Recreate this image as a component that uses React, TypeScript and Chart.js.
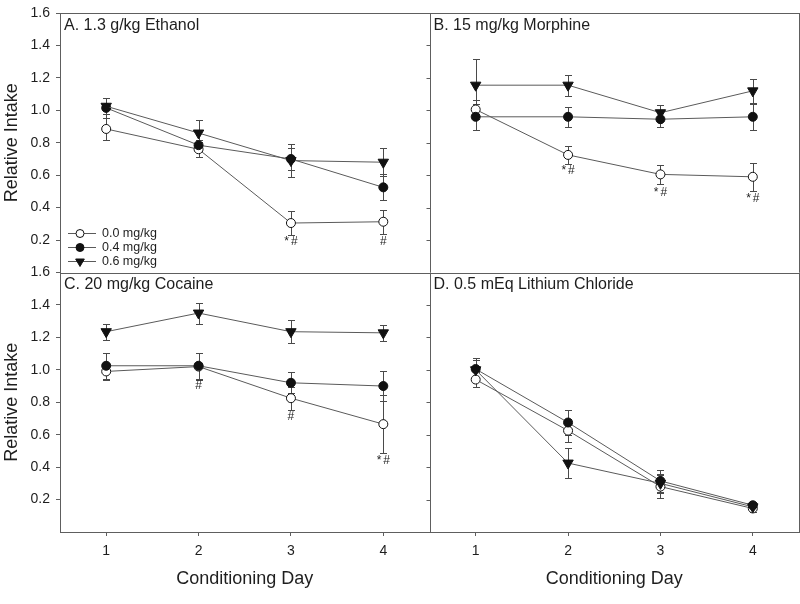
import React, { useEffect, useRef } from 'react';
import { Chart, registerables } from 'chart.js';

Chart.register(...registerables);

// ---------- data ----------
const days = [1, 2, 3, 4];
const yTicks = [0.2, 0.4, 0.6, 0.8, 1.0, 1.2, 1.4, 1.6];
const doseLabels = ['0.0 mg/kg', '0.4 mg/kg', '0.6 mg/kg'];
const panelTitles = ['A. 1.3 g/kg Ethanol', 'B. 15 mg/kg Morphine', 'C. 20 mg/kg Cocaine', 'D. 0.5 mEq Lithium Chloride'];

// A. Ethanol
const ethanol00 = [0.885, 0.76, 0.305, 0.313];
const ethanol00Err = [0.07, 0.045, 0.075, 0.075];
const ethanol04 = [1.015, 0.785, 0.7, 0.525];
const ethanol04Err = [0.06, 0.035, 0.07, 0.08];
const ethanol06 = [1.025, 0.86, 0.69, 0.68];
const ethanol06Err = [0.05, 0.08, 0.1, 0.088];

// B. Morphine
const morphine00 = [1.005, 0.725, 0.605, 0.59];
const morphine00Err = [0.06, 0.055, 0.06, 0.085];
const morphine04 = [0.96, 0.96, 0.945, 0.96];
const morphine04Err = [0.08, 0.06, 0.05, 0.08];
const morphine06 = [1.155, 1.155, 0.985, 1.12];
const morphine06Err = [0.16, 0.065, 0.05, 0.075];

// C. Cocaine
const cocaine00 = [0.99, 1.02, 0.825, 0.665];
const cocaine00Err = [0.055, 0.085, 0.07, 0.18];
const cocaine04 = [1.025, 1.025, 0.92, 0.9];
const cocaine04Err = [0.08, 0.08, 0.065, 0.095];
const cocaine06 = [1.235, 1.35, 1.235, 1.228];
const cocaine06Err = [0.05, 0.065, 0.07, 0.05];

// D. Lithium chloride
const licl00 = [0.94, 0.625, 0.28, 0.145];
const licl00Err = [0.045, 0.07, 0.07, 0.02];
const licl04 = [1.005, 0.675, 0.315, 0.165];
const licl04Err = [0.07, 0.075, 0.07, 0.02];
const licl06 = [1.0, 0.425, 0.3, 0.155];
const licl06Err = [0.06, 0.09, 0.06, 0.02];

// significance marks (day, y value, text)
const markDaysA = [3, 4];
const markYA = [0.19, 0.19];
const markTextA = ['*#', '#'];
const markDaysB = [2, 3, 4];
const markYB = [0.63, 0.49, 0.455];
const markTextB = ['*#', '*#', '*#'];
const markDaysC = [2, 3, 4];
const markYC = [0.9, 0.71, 0.44];
const markTextC = ['#', '#', '*#'];
const markDaysD: number[] = [];
const markYD: number[] = [];
const markTextD: string[] = [];

// ---------- style ----------
const FONT = "'Liberation Sans', Arial, Helvetica, sans-serif";
const TEXT = '#1e1e1e';
const FRAME = '#5e5e5e';
const LINE = '#5a5a5a';
const ERR = '#4a4a4a';
const MARK = '#111111';

const panels = [
  { x: 'xL', y: 'yT', title: panelTitles[0], series: [[ethanol00, ethanol00Err], [ethanol04, ethanol04Err], [ethanol06, ethanol06Err]], marks: [markDaysA, markYA, markTextA] },
  { x: 'xR', y: 'yT', title: panelTitles[1], series: [[morphine00, morphine00Err], [morphine04, morphine04Err], [morphine06, morphine06Err]], marks: [markDaysB, markYB, markTextB] },
  { x: 'xL', y: 'yC', title: panelTitles[2], series: [[cocaine00, cocaine00Err], [cocaine04, cocaine04Err], [cocaine06, cocaine06Err]], marks: [markDaysC, markYC, markTextC] },
  { x: 'xR', y: 'yC', title: panelTitles[3], series: [[licl00, licl00Err], [licl04, licl04Err], [licl06, licl06Err]], marks: [markDaysD, markYD, markTextD] },
];

const seriesStyle = [
  { pointStyle: 'circle', bg: '#ffffff', radius: 4.5, rotation: 0 },
  { pointStyle: 'circle', bg: MARK, radius: 4.5, rotation: 0 },
  { pointStyle: 'triangle', bg: MARK, radius: 6, rotation: 180 },
];

function drawMarker(ctx: CanvasRenderingContext2D, idx: number, x: number, y: number, r: number) {
  ctx.beginPath();
  if (idx === 2) {
    for (let k = 0; k < 3; k++) {
      const ang = Math.PI + k * (2 * Math.PI / 3);
      const px = x + Math.sin(ang) * r;
      const py = y - Math.cos(ang) * r;
      if (k === 0) ctx.moveTo(px, py); else ctx.lineTo(px, py);
    }
    ctx.closePath();
  } else {
    ctx.arc(x, y, r, 0, Math.PI * 2);
  }
  ctx.fillStyle = seriesStyle[idx].bg;
  ctx.fill();
  ctx.strokeStyle = MARK;
  ctx.lineWidth = 1;
  ctx.stroke();
}

const al = (v: number) => Math.round(v) + 0.5;

const panelPlugin = {
  id: 'panelDecor',
  beforeDatasetsDraw(chart: any) {
    const { ctx, chartArea: ca, scales } = chart;
    ctx.save();
    ctx.strokeStyle = FRAME;
    ctx.lineWidth = 1;
    const midX = scales.xL.right;
    const midY = scales.yT.bottom;
    ctx.beginPath();
    ctx.moveTo(ca.left, al(ca.top)); ctx.lineTo(ca.right + 0.5, al(ca.top));
    ctx.moveTo(al(ca.right), ca.top); ctx.lineTo(al(ca.right), ca.bottom);
    ctx.moveTo(ca.left, al(midY)); ctx.lineTo(ca.right + 0.5, al(midY));
    ctx.moveTo(al(midX), ca.top); ctx.lineTo(al(midX), ca.bottom);
    for (const id of ['yT', 'yC']) {
      const s = scales[id];
      for (const v of yTicks) {
        const py = al(s.getPixelForValue(v));
        ctx.moveTo(al(midX) - 4, py); ctx.lineTo(al(midX), py);
      }
    }
    ctx.stroke();

    // error bars
    ctx.strokeStyle = ERR;
    ctx.beginPath();
    for (const p of panels) {
      const xs = scales[p.x];
      const ys = scales[p.y];
      p.series.forEach(([vals, errs]) => {
        days.forEach((d, i) => {
          const px = al(xs.getPixelForValue(d));
          const top = al(ys.getPixelForValue(vals[i] + errs[i]));
          const bot = al(ys.getPixelForValue(vals[i] - errs[i]));
          ctx.moveTo(px, top); ctx.lineTo(px, bot);
          ctx.moveTo(px - 3.5, top); ctx.lineTo(px + 3.5, top);
          ctx.moveTo(px - 3.5, bot); ctx.lineTo(px + 3.5, bot);
        });
      });
    }
    ctx.stroke();
    ctx.restore();
  },
  afterDatasetsDraw(chart: any) {
    const { ctx, scales } = chart;
    ctx.save();
    // titles
    ctx.fillStyle = TEXT;
    ctx.font = `16px ${FONT}`;
    ctx.textBaseline = 'middle';
    ctx.textAlign = 'left';
    for (const p of panels) {
      const xs = scales[p.x];
      const ys = scales[p.y];
      ctx.fillText(p.title, xs.left + 4, ys.top + 12.5);
    }
    // significance marks
    ctx.font = `12px ${FONT}`;
    ctx.textAlign = 'center';
    try { (ctx as any).letterSpacing = '2px'; } catch (e) { /* ignore */ }
    for (const p of panels) {
      const xs = scales[p.x];
      const ys = scales[p.y];
      const [md, my, mt] = p.marks as [number[], number[], string[]];
      md.forEach((d, i) => {
        ctx.fillText(mt[i], xs.getPixelForValue(d) + 1, ys.getPixelForValue(my[i]));
      });
    }
    try { (ctx as any).letterSpacing = '0px'; } catch (e) { /* ignore */ }
    // legend (panel A)
    const lx = scales.xL.left;
    const lb = scales.yT.bottom;
    const rows = [lb - 39.5, lb - 25.5, lb - 11.5];
    ctx.font = `12.5px ${FONT}`;
    ctx.textAlign = 'left';
    doseLabels.forEach((lab, i) => {
      const y = al(rows[i]);
      ctx.strokeStyle = LINE;
      ctx.lineWidth = 1;
      ctx.beginPath();
      ctx.moveTo(lx + 8, y); ctx.lineTo(lx + 36, y);
      ctx.stroke();
      drawMarker(ctx, i, lx + 20, y, i === 2 ? 5 : 4);
      ctx.fillStyle = TEXT;
      ctx.fillText(lab, lx + 42, y);
    });
    ctx.restore();
  },
};

function zeroPad(s: any) {
  s.paddingLeft = 0;
  s.paddingRight = 0;
  s.paddingTop = 0;
  s.paddingBottom = 0;
}

function xScale() {
  return {
    type: 'linear',
    position: 'bottom',
    stack: 'cols',
    stackWeight: 1,
    min: 0.5,
    max: 4.5,
    afterBuildTicks: (s: any) => { s.ticks = days.map((v) => ({ value: v })); },
    afterFit: (s: any) => { s.height = 72; zeroPad(s); },
    grid: { drawOnChartArea: false, drawTicks: true, tickLength: 4, color: FRAME },
    border: { display: true, color: FRAME, width: 1 },
    ticks: { font: { family: FONT, size: 14 }, color: TEXT, padding: 7, callback: (v: number) => String(v) },
    title: { display: true, text: 'Conditioning Day', color: TEXT, font: { family: FONT, size: 18 }, padding: { top: 0, bottom: 14 } },
  };
}

function yScale() {
  return {
    type: 'linear',
    position: 'left',
    stack: 'rows',
    stackWeight: 1,
    min: 0,
    max: 1.6,
    afterBuildTicks: (s: any) => { s.ticks = yTicks.map((v) => ({ value: v })); },
    afterFit: (s: any) => { s.width = 60; zeroPad(s); },
    grid: { drawOnChartArea: false, drawTicks: true, tickLength: 4, color: FRAME },
    border: { display: true, color: FRAME, width: 1 },
    ticks: { font: { family: FONT, size: 14 }, color: TEXT, padding: 6, callback: (v: number) => v.toFixed(1) },
    title: { display: true, text: 'Relative Intake', color: TEXT, font: { family: FONT, size: 18 }, padding: { top: 1, bottom: 0 } },
  };
}

export default function App() {
  const ref = useRef<HTMLCanvasElement | null>(null);
  useEffect(() => {
    if (!ref.current) return;
    const datasets: any[] = [];
    panels.forEach((p) => {
      p.series.forEach(([vals], si) => {
        const st = seriesStyle[si];
        datasets.push({
          label: doseLabels[si],
          data: days.map((d, i) => ({ x: d, y: vals[i] })),
          xAxisID: p.x,
          yAxisID: p.y,
          borderColor: LINE,
          borderWidth: 1,
          fill: false,
          tension: 0,
          pointStyle: st.pointStyle,
          pointRotation: st.rotation,
          pointRadius: st.radius,
          pointBackgroundColor: st.bg,
          pointBorderColor: MARK,
          pointBorderWidth: 1,
          order: 2 - si,
        });
      });
    });
    const chart = new Chart(ref.current, {
      type: 'line',
      data: { datasets },
      options: {
        animation: false,
        responsive: false,
        maintainAspectRatio: false,
        devicePixelRatio: 1,
        layout: { autoPadding: false, padding: { top: 13, right: 1, left: 0, bottom: 0 } },
        plugins: { legend: { display: false }, tooltip: { enabled: false }, title: { display: false } },
        scales: {
          xL: xScale(),
          xR: xScale(),
          yC: yScale(),
          yT: yScale(),
        } as any,
      },
      plugins: [panelPlugin],
    } as any);
    return () => chart.destroy();
  }, []);
  return (
    <div style={{ position: 'absolute', left: 0, top: 0, width: 800, height: 604, background: '#fff' }}>
      <canvas ref={ref} width={800} height={604} style={{ display: 'block', width: 800, height: 604 }} />
    </div>
  );
}
